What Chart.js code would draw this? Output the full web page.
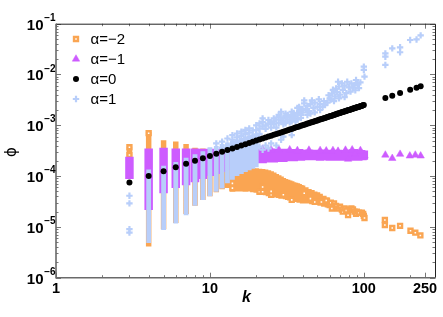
<!DOCTYPE html>
<html lang="en">
<head>
<meta charset="utf-8" />
<script src="https://cdn.jsdelivr.net/npm/chart.js@4.4.1/dist/chart.umd.min.js"></script>
<style>
  html, body { margin: 0; padding: 0; background: #fff; }
  #wrap { width: 443px; height: 317px; }
</style>
</head>
<body>
<div id="wrap"><canvas id="phiChart"></canvas></div>
<script>
// ---- axes / ticks ----
const xTickVals = [1, 10, 100, 250];
const xTickLabels = ['1', '10', '100', '250'];
const xMinorTicks = [2, 3, 4, 5, 6, 7, 8, 9, 20, 30, 40, 50, 60, 70, 80, 90, 200];
const yTickVals = [1e-1, 1e-2, 1e-3, 1e-4, 1e-5, 1e-6];
const yTickExp = ['\u22121', '\u22122', '\u22123', '\u22124', '\u22125', '\u22126'];
const legendLabels = ['\u03b1=\u22122', '\u03b1=\u22121', '\u03b1=0', '\u03b1=1'];

// ---- alpha = 0 : one value per k ----
const blackK = [
  3, 4, 5, 6, 7, 8, 9, 10, 11, 12,
  13, 14, 15, 16, 17, 18, 19, 20, 21, 22,
  23, 24, 25, 26, 27, 28, 29, 30, 31, 32,
  33, 34, 35, 36, 37, 38, 39, 40, 41, 42,
  43, 44, 45, 46, 47, 48, 49, 50, 51, 52,
  53, 54, 55, 56, 57, 58, 59, 60, 61, 62,
  63, 64, 65, 66, 67, 68, 69, 70, 71, 72,
  73, 74, 75, 76, 77, 78, 79, 80, 81, 82,
  83, 84, 85, 86, 87, 88, 89, 90, 91, 92,
  93, 94, 95, 96, 97, 98, 99, 100,
  138, 153, 172, 200, 220, 234
];
const blackV = [
  7.5e-5, 1.0e-4, 1.25e-4, 1.5e-4, 1.75e-4, 2.0e-4, 2.25e-4, 2.5e-4, 2.75e-4, 3.0e-4,
  3.25e-4, 3.5e-4, 3.75e-4, 4.0e-4, 4.25e-4, 4.5e-4, 4.75e-4, 5.0e-4, 5.25e-4, 5.5e-4,
  5.75e-4, 6.0e-4, 6.25e-4, 6.5e-4, 6.75e-4, 7.0e-4, 7.25e-4, 7.5e-4, 7.75e-4, 8.0e-4,
  8.25e-4, 8.5e-4, 8.75e-4, 9.0e-4, 9.25e-4, 9.5e-4, 9.75e-4, 1.0e-3, 1.03e-3, 1.05e-3,
  1.08e-3, 1.1e-3, 1.13e-3, 1.15e-3, 1.18e-3, 1.2e-3, 1.23e-3, 1.25e-3, 1.28e-3, 1.3e-3,
  1.33e-3, 1.35e-3, 1.38e-3, 1.4e-3, 1.43e-3, 1.45e-3, 1.48e-3, 1.5e-3, 1.53e-3, 1.55e-3,
  1.58e-3, 1.6e-3, 1.63e-3, 1.65e-3, 1.68e-3, 1.7e-3, 1.73e-3, 1.75e-3, 1.78e-3, 1.8e-3,
  1.83e-3, 1.85e-3, 1.88e-3, 1.9e-3, 1.93e-3, 1.95e-3, 1.98e-3, 2.0e-3, 2.03e-3, 2.05e-3,
  2.08e-3, 2.1e-3, 2.13e-3, 2.15e-3, 2.18e-3, 2.2e-3, 2.23e-3, 2.25e-3, 2.28e-3, 2.3e-3,
  2.33e-3, 2.35e-3, 2.38e-3, 2.4e-3, 2.43e-3, 2.45e-3, 2.48e-3, 2.5e-3,
  3.45e-3, 3.83e-3, 4.3e-3, 5.0e-3, 5.5e-3, 5.9e-3
];

// ---- alpha = 1 : dense stacks at small k (lo..hi), then scattered points ----
const blueColK  = [4, 5, 6, 7, 8, 9, 10, 11, 12, 13, 14, 15, 16, 17, 18, 19, 20];
const blueColLo = [4.8e-6, 8.7e-6, 1.17e-5, 1.7e-5, 2.6e-5, 3.4e-5, 4.0e-5, 4.9e-5, 5.7e-5,
                   7.2e-5, 8.5e-5, 1.0e-4, 1.1e-4, 1.2e-4, 1.3e-4, 1.4e-4, 1.5e-4];
const blueColHi = [1.35e-4, 1.6e-4, 1.9e-4, 2.3e-4, 2.7e-4, 3.1e-4, 3.7e-4, 3.9e-4, 4.3e-4,
                   4.6e-4, 5.0e-4, 5.3e-4, 5.7e-4, 6.0e-4, 6.4e-4, 6.7e-4, 7.0e-4];
const blueK = [3, 11, 12, 13, 14, 15, 16, 17, 18, 19, 20,
  21, 22, 23, 24, 25, 26, 27, 28, 29, 30, 31, 32, 33, 34, 35, 36, 37, 38, 39, 40, 41,
  42, 43, 44, 45, 46, 47, 48, 50, 51, 52, 54, 55, 56, 58,
  59, 60, 61, 62, 63, 64, 65, 66, 67, 68, 69, 70, 72, 73, 75, 77, 78, 80, 82, 83, 85,
  87, 88, 89, 91, 93, 95, 100, 101, 138, 153, 172, 200, 220, 234];
const blueV = [
  [4.1e-5, 2.9e-5, 9.0e-6, 7.7e-6],
  [4.4e-4], [4.75e-4, 3.6e-4], [5.5e-4, 4.0e-4], [6.4e-4, 5.2e-4], [6.9e-4, 5.8e-4],
  [7.5e-4, 6.2e-4], [8.1e-4, 6.8e-4], [8.7e-4, 7.2e-4], [7.9e-4, 6.0e-4], [1.0e-3, 8.0e-4, 6.4e-4],
  [1.09e-3, 8.6e-4, 6.8e-4, 3.8e-4], [1.37e-3, 1.15e-3, 9.5e-4, 3.3e-4], [1.0e-3, 8.5e-4, 4.0e-4],
  [1.27e-3, 1.05e-3, 3.5e-4], [1.15e-3, 9.0e-4, 4.4e-4], [1.37e-3, 1.2e-3, 1.05e-3],
  [1.3e-3, 9.0e-4, 4.0e-4], [1.6e-3, 1.45e-3, 1.1e-3], [1.85e-3, 1.25e-3, 5.2e-4],
  [1.4e-3, 1.2e-3, 1.05e-3, 6.0e-4], [1.7e-3, 1.5e-3, 1.1e-3], [1.6e-3, 1.3e-3], [1.45e-3, 1.15e-3],
  [1.85e-3, 1.6e-3, 1.2e-3, 6.4e-4], [1.75e-3, 1.35e-3], [1.5e-3, 1.2e-3], [2.2e-3, 1.7e-3, 1.3e-3],
  [2.3e-3, 1.9e-3], [1.6e-3, 1.4e-3], [2.1e-3, 1.8e-3], [3.1e-3, 2.7e-3],
  [2.0e-3], [2.4e-3, 1.6e-3], [1.9e-3], [2.6e-3, 1.7e-3], [3.1e-3], [2.2e-3], [2.8e-3, 1.8e-3],
  [2.3e-3], [3.25e-3], [2.6e-3, 2.0e-3], [2.3e-3], [3.0e-3], [2.5e-3], [2.8e-3],
  [3.9e-3], [3.4e-3], [3.2e-3], [4.2e-3], [5.0e-3], [3.0e-3], [3.7e-3], [5.3e-3], [4.5e-3],
  [7.2e-3], [5.8e-3, 3.4e-3], [4.0e-3], [6.7e-3], [5.0e-3], [6.0e-3, 3.6e-3], [4.3e-3], [7.2e-3],
  [5.6e-3], [4.6e-3], [6.7e-3], [5.5e-3],
  [6.2e-3], [4.9e-3], [7.8e-3], [6.5e-3], [5.4e-3], [7.0e-3], [1.43e-2, 1.23e-2], [9.1e-3],
  [2.6e-2, 2.24e-2, 1.54e-2], [3.27e-2], [3.43e-2, 2.74e-2], [4.78e-2], [4.9e-2], [5.9e-2]
];

// ---- alpha = -1 : stacks at small k, then a flat band ----
const purpleColK = [3, 4, 5, 6, 7, 8, 9, 10, 11, 12, 13, 14, 15, 16, 17, 18, 19,
  20, 21, 22, 23, 24, 25, 26, 27, 28, 29, 30, 31, 32, 33, 34, 35, 36, 37, 38, 39, 40,
  42, 44, 46, 48, 50, 52, 54, 56, 58, 60, 62, 64, 66, 68, 70, 72, 74, 76, 78, 80,
  82, 84, 86, 88, 90, 92, 94, 96, 98, 100];
const purpleColLo = [8.8e-5, 2.15e-5, 4.6e-5, 5.8e-5, 6.6e-5, 7.6e-5, 8.8e-5, 1.0e-4, 1.1e-4,
  1.2e-4, 1.3e-4, 1.5e-4, 1.6e-4, 1.7e-4, 1.75e-4, 1.75e-4, 1.8e-4,
  1.8e-4, 1.85e-4, 1.8e-4, 1.9e-4, 1.85e-4, 1.9e-4, 1.85e-4, 1.95e-4, 1.9e-4, 1.95e-4, 1.9e-4,
  2.0e-4, 1.95e-4, 2.0e-4, 2.0e-4, 1.95e-4, 2.05e-4, 2.0e-4, 2.05e-4, 2.0e-4, 2.05e-4,
  2.05e-4, 2.1e-4, 2.05e-4, 2.1e-4, 2.05e-4, 2.0e-4, 2.1e-4, 2.05e-4, 2.1e-4, 2.0e-4,
  2.05e-4, 2.1e-4, 2.05e-4, 2.0e-4, 2.1e-4, 2.05e-4, 2.1e-4, 2.0e-4, 2.05e-4, 2.1e-4,
  2.0e-4, 2.05e-4, 2.1e-4, 2.05e-4, 2.1e-4, 2.0e-4, 2.05e-4, 2.1e-4, 2.05e-4, 2.1e-4];
const purpleColHi = [2.4e-4, 3.5e-4, 3.6e-4, 3.5e-4, 3.5e-4, 3.5e-4, 3.45e-4, 3.45e-4, 3.4e-4,
  3.4e-4, 3.4e-4, 3.4e-4, 3.35e-4, 3.4e-4, 3.35e-4, 3.4e-4, 3.35e-4,
  3.4e-4, 3.5e-4, 3.3e-4, 3.45e-4, 3.35e-4, 3.5e-4, 3.3e-4, 3.4e-4, 3.25e-4, 3.4e-4, 3.3e-4,
  3.45e-4, 3.25e-4, 3.35e-4, 3.3e-4, 3.4e-4, 3.2e-4, 3.3e-4, 3.4e-4, 3.25e-4, 3.3e-4,
  3.2e-4, 3.35e-4, 3.2e-4, 3.3e-4, 3.15e-4, 3.25e-4, 3.35e-4, 3.2e-4, 3.15e-4, 3.3e-4,
  3.2e-4, 3.25e-4, 3.15e-4, 3.3e-4, 3.2e-4, 3.1e-4, 3.25e-4, 3.15e-4, 3.35e-4, 3.2e-4,
  3.15e-4, 3.25e-4, 3.4e-4, 3.2e-4, 3.15e-4, 3.3e-4, 3.2e-4, 3.25e-4, 3.15e-4, 3.2e-4];
const purpleK = [22, 25, 28, 33, 37, 44, 52, 57, 63, 68, 76, 79, 84, 88, 95, 101,
  138, 153, 172, 199, 216, 234];
const purpleV = [[3.4e-4], [3.3e-4], [3.35e-4], [3.3e-4], [3.2e-4], [3.25e-4], [3.2e-4],
  [3.15e-4], [3.2e-4], [3.1e-4], [3.25e-4], [2.16e-4], [3.3e-4], [2.7e-4], [3.2e-4], [2.5e-4],
  [2.6e-4], [2.24e-4], [2.7e-4], [2.5e-4], [2.6e-4], [2.5e-4]];

// ---- alpha = -2 : stacks at small k, then a falling band ----
const orangeColK = [3, 4, 5, 6, 7, 8, 9, 10, 11, 12, 13,
  14, 15, 16, 17, 18, 19, 20, 21, 22, 23, 24, 25, 26, 27, 28, 29, 30,
  31, 32, 33, 34, 35, 36, 37, 38, 39, 40, 42, 44, 46, 48, 50, 52, 55, 58];
const orangeColLo = [1.6e-4, 4.1e-6, 9.0e-6, 1.2e-5, 1.8e-5, 2.6e-5, 3.4e-5, 4.0e-5, 4.8e-5, 5.5e-5, 5.8e-5,
  4.9e-5, 5.0e-5, 5.0e-5, 4.9e-5, 5.0e-5, 4.8e-5, 4.7e-5, 4.5e-5, 4.4e-5, 4.2e-5, 4.0e-5, 3.9e-5, 4.0e-5,
  3.8e-5, 3.7e-5, 3.6e-5, 3.8e-5, 3.5e-5, 3.4e-5, 3.3e-5, 3.2e-5, 3.2e-5, 3.1e-5, 3.1e-5, 3.0e-5,
  3.0e-5, 2.9e-5, 2.9e-5, 2.9e-5, 2.8e-5, 2.8e-5, 2.7e-5, 2.6e-5, 2.5e-5, 2.4e-5];
const orangeColHi = [3.8e-4, 7.3e-4, 5.1e-4, 4.8e-4, 4.3e-4, 3.6e-4, 3.5e-4, 3.4e-4, 3.2e-4, 3.0e-4, 2.6e-4,
  1.45e-4, 1.45e-4, 1.45e-4, 1.48e-4, 1.45e-4, 1.45e-4, 1.42e-4, 1.4e-4, 1.38e-4, 1.35e-4, 1.3e-4, 1.25e-4,
  1.18e-4, 1.1e-4, 1.04e-4, 9.8e-5, 9.2e-5, 8.8e-5, 8.5e-5, 8.2e-5, 7.9e-5, 7.6e-5, 7.4e-5, 7.2e-5,
  7.0e-5, 6.7e-5, 6.5e-5, 6.0e-5, 5.6e-5, 5.3e-5, 5.0e-5, 4.8e-5, 4.5e-5, 4.1e-5, 3.8e-5];
const orangeK = [3, 4, 14, 21, 22, 25, 30, 34, 41, 45, 48, 52, 53, 57, 60, 61, 62, 64, 66, 68, 70,
  72, 73, 75, 77, 79, 81, 83, 85, 87, 89, 90, 93, 97, 99, 100, 101, 137, 153, 172, 201, 216, 233];
const orangeV = [[3.7e-4, 2.6e-4], [7.0e-4], [7.2e-5, 5.8e-5], [4.9e-5], [6.1e-5, 4.9e-5], [4.3e-5, 5.0e-5],
  [4.3e-5], [3.4e-5], [4.6e-5], [3.6e-5], [3.1e-5], [3.1e-5], [3.1e-5], [3.3e-5], [2.7e-5], [3.0e-5],
  [2.3e-5], [2.9e-5], [2.6e-5], [2.3e-5], [2.5e-5], [2.2e-5], [2.0e-5], [2.3e-5], [2.1e-5], [1.7e-5],
  [2.2e-5], [2.3e-5], [2.2e-5], [2.0e-5], [1.8e-5], [2.0e-5], [1.9e-5], [1.9e-5], [1.8e-5], [1.65e-5],
  [1.5e-5], [1.37e-5, 1.09e-5], [9.5e-6], [1.05e-5], [8.4e-6], [7.7e-6], [6.8e-6]];

// ---- styles ----
const ORANGE = 'rgb(250,165,82)';
const PURPLE = 'rgb(205,92,255)';
const BLUE = 'rgb(184,206,250)';
const BLACK = '#000';
const marks = [
  { shape: 'rect', r: 2.8, bg: '#fff', border: ORANGE, bw: 2.4 },
  { shape: 'triangle', r: 4.3, bg: PURPLE, border: PURPLE, bw: 0.5 },
  { shape: 'circle', r: 3, bg: BLACK, border: BLACK, bw: 0 },
  { shape: 'cross', r: 3.2, bg: BLUE, border: BLUE, bw: 2.2 }
];

const pts = (ks, vs) => ks.flatMap((k, i) => [].concat(vs[i] || []).map(v => ({ x: k, y: v })));
const cols = (ks, lo, hi) => ks.flatMap((k, i) => [{ x: k, y: lo[i] }, { x: k, y: hi[i] }, { x: k, y: null }]);

function scatterSet(label, data, m, order) {
  return {
    label, data, order,
    pointStyle: m.shape, pointRadius: m.r, pointBackgroundColor: m.bg,
    pointBorderColor: m.border, pointBorderWidth: m.bw, showLine: false
  };
}
function columnSet(data, color, width, order) {
  return {
    data, order, showLine: true, spanGaps: false, pointRadius: 0,
    borderColor: color, borderWidth: width, borderCapStyle: 'butt'
  };
}

const axesFrame = {
  id: 'axesFrame',
  afterDraw(chart) {
    const { ctx, chartArea: a } = chart;
    const xs = chart.scales.x, ys = chart.scales.y;
    ctx.save();

    // inward ticks on all four sides
    ctx.strokeStyle = '#777';
    ctx.lineWidth = 1;
    ctx.beginPath();
    const xTick = (v, len) => {
      const px = Math.round(xs.getPixelForValue(v)) + 0.5;
      ctx.moveTo(px, a.bottom); ctx.lineTo(px, a.bottom - len);
      ctx.moveTo(px, a.top); ctx.lineTo(px, a.top + len);
    };
    const yTick = (v, len) => {
      const py = Math.round(ys.getPixelForValue(v)) + 0.5;
      ctx.moveTo(a.left, py); ctx.lineTo(a.left + len, py);
      ctx.moveTo(a.right, py); ctx.lineTo(a.right - len, py);
    };
    xTickVals.forEach(v => xTick(v, 5));
    xMinorTicks.forEach(v => xTick(v, 2.5));
    yTickVals.forEach(v => yTick(v, 5));
    yTickVals.slice(1).forEach(d => [2, 3, 4, 5, 6, 7, 8, 9].forEach(m => yTick(d * m, 2.5)));
    ctx.stroke();

    // frame: thin dark top/right, grey left/bottom
    ctx.strokeStyle = '#222';
    ctx.lineWidth = 1;
    ctx.beginPath();
    ctx.moveTo(a.left, a.top + 0.5);
    ctx.lineTo(a.right + 0.5, a.top + 0.5);
    ctx.lineTo(a.right + 0.5, a.bottom);
    ctx.stroke();
    ctx.strokeStyle = '#6a6a6a';
    ctx.lineWidth = 1.6;
    ctx.beginPath();
    ctx.moveTo(a.left, a.top);
    ctx.lineTo(a.left, a.bottom);
    ctx.lineTo(a.right + 1, a.bottom);
    ctx.stroke();

    // tick labels
    const sans = '"Liberation Sans", Arial, Helvetica, sans-serif';
    ctx.fillStyle = '#000';
    ctx.textBaseline = 'alphabetic';
    yTickVals.forEach((v, i) => {
      const py = ys.getPixelForValue(v);
      ctx.textAlign = 'right';
      ctx.font = 'bold 15px ' + sans;
      ctx.fillText('10', a.left - 12.5, py + 5.8);
      ctx.textAlign = 'left';
      ctx.font = 'bold 10px ' + sans;
      ctx.fillText(yTickExp[i], a.left - 11.8, py - 3);
    });
    ctx.textAlign = 'center';
    ctx.font = 'bold 14.5px ' + sans;
    xTickVals.forEach((v, i) => {
      ctx.fillText(xTickLabels[i], xs.getPixelForValue(v), a.bottom + 14.8);
    });

    // axis titles
    ctx.font = 'bold italic 16px ' + sans;
    ctx.textBaseline = 'middle';
    ctx.fillText('k', 246.5, 297.5);
    ctx.save();
    ctx.translate(12.5, 152);
    ctx.rotate(-Math.PI / 2);
    ctx.font = '15px "DejaVu Sans", sans-serif';
    ctx.fillText('\u03d5', 0, 0);
    ctx.restore();

    // legend inside the plot
    ctx.textAlign = 'left';
    ctx.font = '15px ' + sans;
    legendLabels.forEach((t, i) => {
      const m = marks[i];
      const ly = a.top + 15.3 + i * 20;
      const lx = a.left + 20;
      ctx.fillStyle = m.bg;
      ctx.strokeStyle = m.border;
      ctx.lineWidth = m.bw;
      if (Chart.helpers && Chart.helpers.drawPoint) {
        Chart.helpers.drawPoint(ctx, { pointStyle: m.shape, radius: m.r, rotation: 0, borderWidth: m.bw }, lx, ly);
      } else {
        ctx.beginPath(); ctx.arc(lx, ly, m.r, 0, 2 * Math.PI); ctx.fill();
      }
      ctx.fillStyle = '#000';
      ctx.fillText(t, a.left + 34.5, ly + 0.5);
    });
    ctx.restore();
  }
};

new Chart(document.getElementById('phiChart'), {
  type: 'scatter',
  data: {
    datasets: [
      scatterSet('\u03b1=0', pts(blackK, blackV), marks[2], 1),
      scatterSet('\u03b1=1', pts(blueK, blueV), marks[3], 2),
      columnSet(cols(blueColK, blueColLo, blueColHi), BLUE, 4.8, 3),
      scatterSet('\u03b1=-1', pts(purpleK, purpleV), marks[1], 4),
      columnSet(cols(purpleColK, purpleColLo, purpleColHi), PURPLE, 8.5, 5),
      scatterSet('\u03b1=-2', pts(orangeK, orangeV), marks[0], 6),
      columnSet(cols(orangeColK, orangeColLo, orangeColHi), ORANGE, 5.5, 7)
    ]
  },
  options: {
    responsive: true,
    maintainAspectRatio: false,
    devicePixelRatio: 1,
    animation: false,
    events: [],
    layout: { padding: { left: 56, right: 8, top: 23.7, bottom: 39.3 } },
    plugins: { legend: { display: false }, tooltip: { enabled: false } },
    scales: {
      x: { type: 'logarithmic', min: 1, max: 290, display: false },
      y: { type: 'logarithmic', min: 1e-6, max: 1e-1, display: false }
    }
  },
  plugins: [axesFrame]
});
</script>
</body>
</html>
